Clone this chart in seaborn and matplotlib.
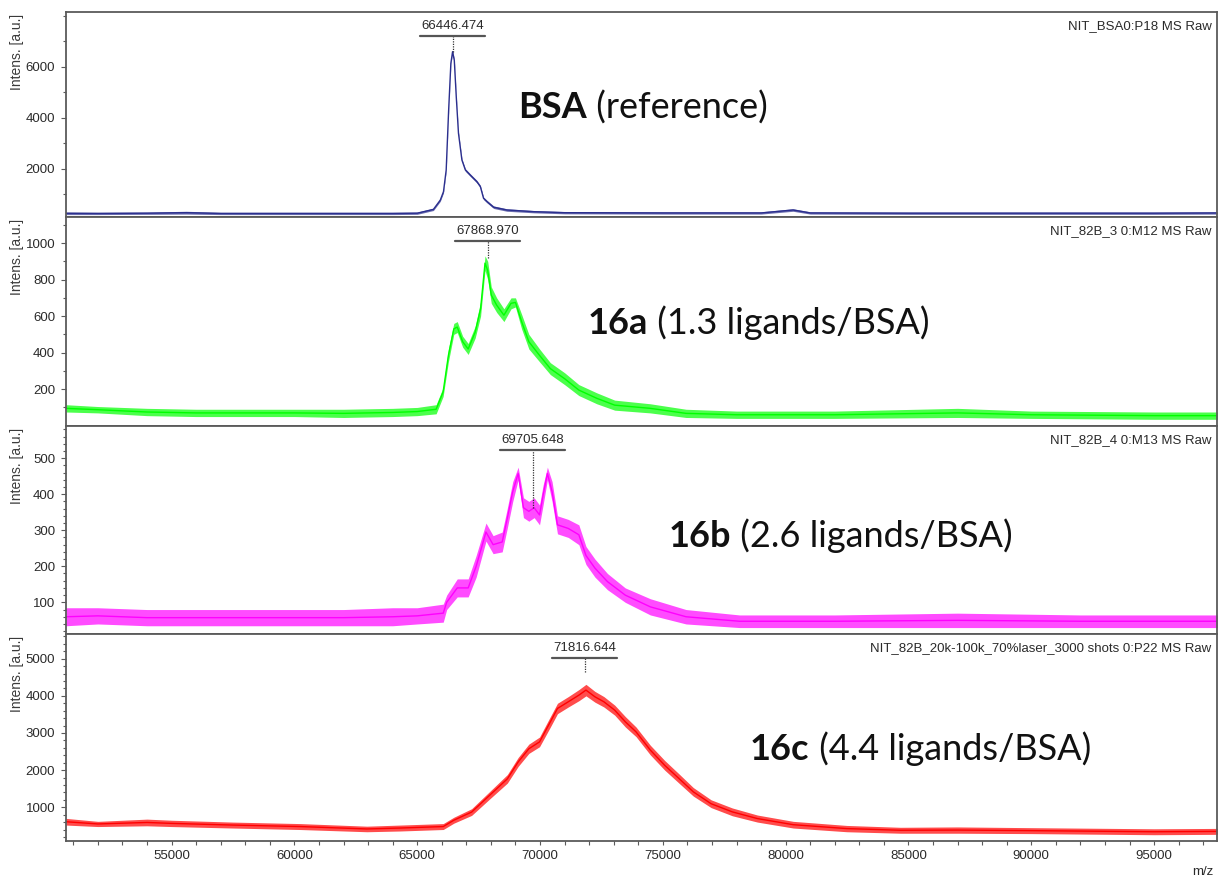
import numpy as np
import pandas as pd
import matplotlib
matplotlib.use("Agg")
import matplotlib.pyplot as plt
import seaborn as sns
from matplotlib.ticker import MultipleLocator, FixedLocator, FormatStrFormatter
from matplotlib.lines import Line2D
from matplotlib.transforms import IdentityTransform

# ---------------- data ----------------
# Each spectrum: m/z positions, lower and upper edge of the noisy trace.
bsa_mz = [50700, 52000, 54000, 55600, 57000, 60000, 62000, 64000, 65000, 65660,
          65940, 66070, 66180, 66280, 66370, 66440, 66510, 66590, 66680, 66820,
          66960, 67160, 67430, 67570, 67700, 67840, 68110, 68650, 69740, 71000,
          75000, 79000, 80300, 81000, 85000, 90000, 95000, 97600]
bsa_lo = [200, 200, 210, 220, 200, 200, 200, 200, 210, 360,
          720, 1050, 1900, 4250, 6080, 6540, 6200, 4770, 3340, 2290,
          1900, 1700, 1440, 1250, 790, 660, 440, 330, 270, 230,
          220, 220, 330, 220, 210, 210, 210, 220]
bsa_hi = [300, 290, 300, 330, 290, 290, 290, 290, 300, 450,
          820, 1150, 2000, 4350, 6180, 6640, 6300, 4870, 3440, 2390,
          2000, 1800, 1540, 1350, 890, 760, 540, 430, 360, 320,
          310, 310, 430, 310, 300, 300, 300, 310]

a16_mz = [50700, 52000, 54000, 56000, 58000, 60000, 62000, 64000, 65000, 65770,
          66055, 66270, 66490, 66630, 66850, 67075, 67360, 67580, 67760, 67870,
          68015, 68235, 68530, 68820, 69000, 69250, 69545, 69980, 70420, 71000,
          71580, 72310, 73040, 74490, 75945, 78000, 82000, 87000, 90000, 95000, 97600]
a16_lo = [75, 70, 55, 50, 50, 50, 45, 50, 55, 65,
          160, 350, 500, 510, 430, 390, 480, 600, 850, 800,
          670, 620, 570, 640, 650, 530, 420, 350, 280, 225,
          165, 120, 85, 70, 45, 40, 40, 45, 40, 35, 35]
a16_hi = [115, 105, 95, 90, 90, 90, 90, 95, 100, 115,
          210, 420, 560, 570, 490, 450, 545, 680, 930, 900,
          760, 700, 640, 700, 700, 610, 500, 420, 345, 290,
          225, 180, 140, 120, 90, 80, 80, 95, 80, 75, 75]

b16_mz = [50700, 52000, 54000, 56000, 58000, 60000, 62000, 64000, 65000, 66060,
          66200, 66630, 67075, 67400, 67800, 68090, 68460, 68665, 68890, 69110,
          69325, 69545, 69760, 69980, 70125, 70300, 70490, 70710, 71150, 71580,
          71870, 72235, 72745, 73470, 74490, 75945, 78120, 82000, 87000, 92000, 97600]
b16_lo = [35, 40, 35, 35, 35, 35, 35, 35, 40, 45,
          80, 115, 115, 170, 270, 235, 240, 305, 380, 440,
          335, 325, 335, 315, 370, 440, 380, 290, 280, 260,
          205, 170, 135, 100, 65, 40, 30, 30, 30, 30, 30]
b16_hi = [85, 85, 80, 80, 80, 80, 80, 85, 85, 95,
          120, 165, 165, 230, 320, 285, 295, 360, 435, 475,
          390, 380, 390, 370, 425, 475, 435, 340, 330, 315,
          255, 220, 180, 140, 110, 80, 65, 65, 70, 65, 65]

c16_mz = [50700, 52000, 54000, 55000, 57500, 60230, 62950, 64300, 66060, 66490,
          67215, 67945, 68670, 69110, 69545, 69980, 70420, 70710, 71150, 71585,
          71870, 72235, 72600, 73040, 73475, 73910, 74490, 75075, 75655, 76240,
          76965, 77830, 78850, 80310, 82490, 84670, 87000, 90000, 95000, 97600]
c16_lo = [520, 480, 500, 480, 440, 400, 340, 360, 400, 570,
          780, 1220, 1650, 2100, 2450, 2630, 3160, 3520, 3700, 3870,
          4000, 3830, 3700, 3480, 3160, 2900, 2410, 2000, 1650, 1300,
          990, 770, 600, 440, 340, 300, 300, 290, 260, 270]
c16_hi = [700, 620, 680, 650, 600, 560, 490, 520, 560, 730,
          960, 1420, 1880, 2340, 2700, 2890, 3440, 3800, 3980, 4170,
          4310, 4120, 3980, 3750, 3440, 3160, 2670, 2260, 1900, 1530,
          1200, 980, 790, 620, 510, 460, 470, 450, 420, 430]

series_mz = [bsa_mz, a16_mz, b16_mz, c16_mz]
series_lo = [bsa_lo, a16_lo, b16_lo, c16_lo]
series_hi = [bsa_hi, a16_hi, b16_hi, c16_hi]

peak_mz = [66446.474, 67868.970, 69705.648, 71816.644]
peak_int = [6590, 918, 362, 4649]

tags = ["NIT_BSA0:P18 MS Raw",
        "NIT_82B_3 0:M12 MS Raw",
        "NIT_82B_4 0:M13 MS Raw",
        "NIT_82B_20k-100k_70%laser_3000 shots 0:P22 MS Raw"]
bold_labels = ["BSA", "16a", "16b", "16c"]
rest_labels = ["(reference)", "(1.3 ligands/BSA)", "(2.6 ligands/BSA)", "(4.4 ligands/BSA)"]

y_limits = [(94, 8157), (0, 1141), (13, 590), (99, 5674)]
y_major = [[2000, 4000, 6000], [200, 400, 600, 800, 1000],
           [100, 200, 300, 400, 500], [1000, 2000, 3000, 4000, 5000]]
y_minor = [list(range(1000, 9000, 1000)), list(range(100, 1200, 100)),
           list(range(20, 600, 20)), list(range(200, 5800, 200))]
x_major = list(range(55000, 100000, 5000))
x_minor = list(range(51000, 98000, 1000))
x_limits = (50690, 97560)

colors = ["#2B2F8E", "#00FF00", "#FF00FF", "#FF0000"]

# ---------------- layout ----------------
sns.set_theme(style="white")
plt.rcParams["font.family"] = ["Liberation Sans", "DejaVu Sans"]

W, H = 1219, 880
fig = plt.figure(figsize=(W / 100, H / 100), dpi=100)
panel_px = [(11.7, 217.3), (217.3, 425.7), (425.7, 633.7), (633.7, 840.7)]
left_px, right_px = 65.7, 1217.0
label_px = [(518, 118.3), (587.5, 334.3), (668.6, 546.7), (750, 760.3)]

frame_col = "#5a5a5a"
text_col = "#2a2a2a"

axes = []
for i in range(4):
    top, bot = panel_px[i]
    ax = fig.add_axes([left_px / W, 1 - bot / H, (right_px - left_px) / W, (bot - top) / H])
    axes.append(ax)
    df = pd.DataFrame({
        "mz": list(series_mz[i]) * 2,
        "intensity": list(series_lo[i]) + list(series_hi[i]),
    })
    sns.lineplot(data=df, x="mz", y="intensity", ax=ax, color=colors[i],
                 estimator="mean", errorbar=("pi", 100), linewidth=1.0,
                 err_kws={"alpha": 0.7, "linewidth": 0}, legend=False)
    ax.set_xlim(*x_limits)
    ax.set_ylim(*y_limits[i])
    ax.set_xlabel("")
    ax.set_ylabel("")
    ax.set_facecolor("white")
    for s in ax.spines.values():
        s.set_visible(True)
        s.set_color(frame_col)
        s.set_linewidth(1.3)
    ax.yaxis.set_major_locator(FixedLocator(y_major[i]))
    ax.yaxis.set_minor_locator(FixedLocator(y_minor[i]))
    ax.yaxis.set_major_formatter(FormatStrFormatter("%d"))
    ax.tick_params(axis="y", which="major", direction="out", length=3.5, width=0.8,
                   color=frame_col, labelsize=9.5, labelcolor=text_col, pad=4, left=True)
    ax.tick_params(axis="y", which="minor", direction="out", length=2.2, width=0.8,
                   color=frame_col, left=True)
    ax.xaxis.set_major_locator(FixedLocator(x_major))
    ax.xaxis.set_minor_locator(FixedLocator(x_minor))
    ax.xaxis.set_major_formatter(FormatStrFormatter("%d"))
    if i == 3:
        ax.tick_params(axis="x", which="both", direction="out", length=3, width=0.8,
                       color=frame_col, labelsize=9.5, labelcolor=text_col, pad=4, bottom=True)
    else:
        ax.tick_params(axis="x", which="both", bottom=False, labelbottom=False)

    ax.annotate("Intens. [a.u.]", xy=(0, 1), xycoords="axes fraction",
                xytext=(17 - left_px, -2), textcoords="offset pixels",
                rotation=90, ha="center", va="top", fontsize=10, color="#3a3a3a")
    ax.annotate(tags[i], xy=(1, 1), xycoords="axes fraction",
                xytext=(-5.5, -14), textcoords="offset pixels",
                ha="right", va="center", fontsize=9.5, color=text_col)

fig.text(1213 / W, 1 - 872 / H, "m/z", ha="right", va="center", fontsize=9.5, color=text_col)

# peak labels (text + bracket bar + dotted drop line)
peak_texts = []
for i, ax in enumerate(axes):
    t = ax.annotate(f"{peak_mz[i]:.3f}", xy=(peak_mz[i], 1),
                    xycoords=("data", "axes fraction"), xytext=(0, -14),
                    textcoords="offset pixels", ha="center", va="center",
                    fontsize=9.5, color=text_col)
    peak_texts.append(t)

# big sample labels: bold part
bold_texts = []
for i in range(4):
    x, yb = label_px[i]
    tb = fig.text(x / W, 1 - yb / H, bold_labels[i], fontsize=26, fontweight="bold",
                  family=["Lato", "DejaVu Sans"], va="baseline", ha="left", color="#111111")
    bold_texts.append(tb)

fig.canvas.draw()
renderer = fig.canvas.get_renderer()

for i, ax in enumerate(axes):
    bb = peak_texts[i].get_window_extent(renderer)
    ax_top = ax.get_window_extent(renderer).y1
    bar_y = ax_top - 24
    fig.add_artist(Line2D([bb.x0 - 1, bb.x1 + 1], [bar_y, bar_y],
                          transform=IdentityTransform(), color="#555555", lw=1.6))
    y_top_data = ax.transData.inverted().transform((0, bar_y))[1]
    ax.plot([peak_mz[i], peak_mz[i]], [peak_int[i], y_top_data],
            linestyle=(0, (1, 1)), color="#333333", lw=0.9)

for i in range(4):
    x, yb = label_px[i]
    bb = bold_texts[i].get_window_extent(renderer)
    fig.text(bb.x1 / W, 1 - yb / H, " " + rest_labels[i], fontsize=26,
             family=["Lato", "DejaVu Sans"], va="baseline", ha="left", color="#111111")

fig.savefig("out.png", dpi=100)
